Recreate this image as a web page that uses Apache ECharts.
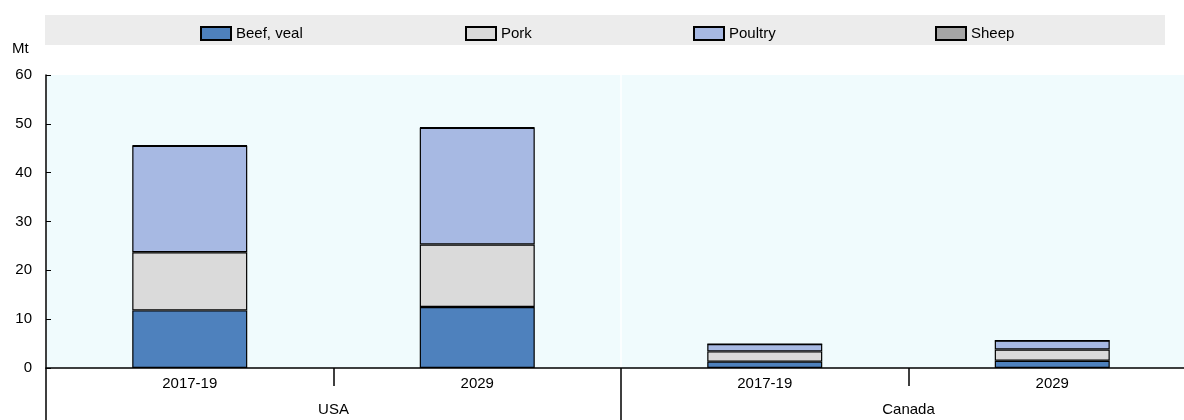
<!DOCTYPE html>
<html>
<head>
<meta charset="utf-8">
<script src="https://cdn.jsdelivr.net/npm/echarts@6/dist/echarts.min.js"></script>
<style>html,body{margin:0;padding:0;background:#fff;overflow:hidden;width:1184px;height:420px}#chart{width:1196px;height:420px}</style>
</head>
<body>
<div id="chart"></div>
<script>
// categories
var periods = ['2017-19', '2029', '2017-19', '2029'];
var countries = ['USA', 'Canada'];
// values in Mt
var beef = [11.8, 12.5, 1.3, 1.5];
var pork = [11.9, 12.8, 2.1, 2.3];
var poultry = [21.8, 23.9, 1.5, 1.8];
var sheep = [0.1, 0.1, 0.02, 0.02];
var seriesNames = ['Beef, veal', 'Pork', 'Poultry', 'Sheep'];
var legendLeft = [195, 460, 688, 930];

var font = 'Arial, Liberation Sans, sans-serif';

function mkSeries(name, data, color){
	return {
		name: name,
		type: 'bar',
		stack: 'meat',
		barWidth: '40%',
		itemStyle: {color: color, borderColor: '#000', borderWidth: 1.2},
		data: data
	};
}

// one legend per item so each sits where the reference has it
var legends = seriesNames.map(function(n, i){
	return {
		top: 21, left: legendLeft[i],
		icon: 'rect', itemWidth: 30, itemHeight: 13,
		textStyle: {fontSize: 15, color: '#000', fontFamily: font},
		data: [n]
	};
});

// the container is a bit wider than the window: the last category runs past the picture edge
var myChart = echarts.init(document.getElementById('chart'));
myChart.setOption({
	animation: false,
	textStyle: {fontFamily: font},
	graphic: [
		{type: 'rect', shape: {x: 45, y: 15, width: 1120, height: 30}, style: {fill: '#ececec'}, z: -1},
		{type: 'text', left: 12, top: 41, style: {text: 'Mt', fontSize: 15, fill: '#000', fontFamily: font}}
	],
	legend: legends,
	grid: {left: 46, right: 0, top: 75, bottom: 52, show: true, backgroundColor: '#f0fbfd', borderWidth: 0},
	xAxis: [{
		type: 'category',
		data: periods,
		axisLine: {lineStyle: {color: '#000', width: 1.5}},
		axisTick: {show: true, length: 18, lineStyle: {color: '#000', width: 1.5}},
		axisLabel: {color: '#000', fontSize: 15, margin: 8},
		splitLine: {show: false}
	}, {
		type: 'category',
		data: countries,
		position: 'bottom',
		axisLine: {show: false},
		axisTick: {show: true, length: 52, lineStyle: {color: '#000', width: 1.5}},
		axisLabel: {color: '#000', fontSize: 15, margin: 34},
		splitLine: {show: true, lineStyle: {color: '#fff', width: 1.5}}
	}],
	yAxis: {
		type: 'value',
		min: 0, max: 60, interval: 10,
		axisLine: {show: true, lineStyle: {color: '#000', width: 1.5}},
		axisTick: {show: true, inside: true, length: 5, lineStyle: {color: '#000'}},
		axisLabel: {color: '#000', fontSize: 15, margin: 14},
		splitLine: {show: false}
	},
	series: [
		mkSeries(seriesNames[0], beef, '#4e81bd'),
		mkSeries(seriesNames[1], pork, '#dadada'),
		mkSeries(seriesNames[2], poultry, '#a7b9e3'),
		mkSeries(seriesNames[3], sheep, '#a5a5a5')
	]
});
</script>
</body>
</html>
